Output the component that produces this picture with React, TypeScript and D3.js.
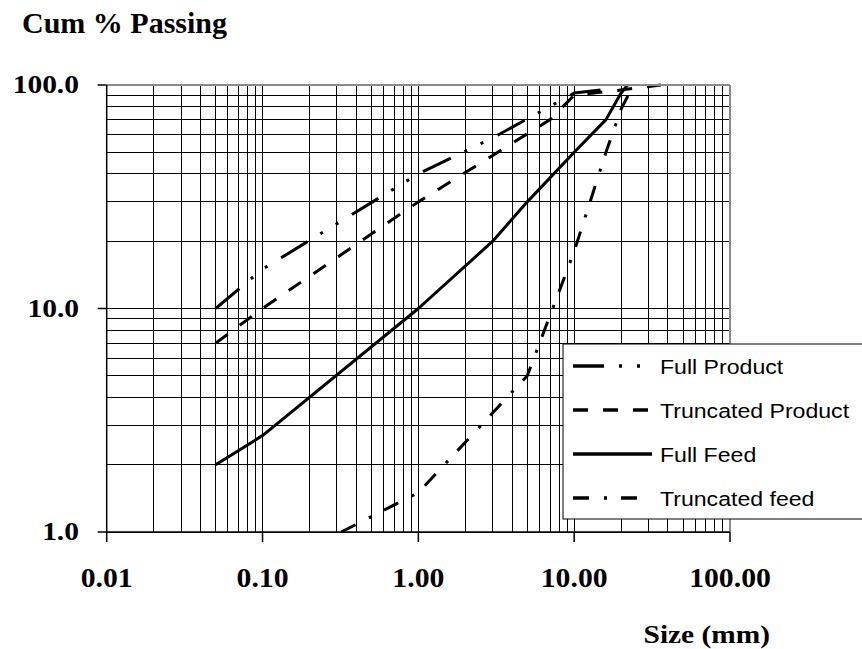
import * as d3 from 'd3';
import React, { useEffect, useRef } from 'react';

// axis ticks
const sizeTicks = [0.01, 0.1, 1, 10, 100];
const sizeTickLabels = ['0.01', '0.10', '1.00', '10.00', '100.00'];
const passingTicks = [1, 10, 100];
const passingTickLabels = ['1.0', '10.0', '100.0'];

// series (size in mm, cumulative % passing)
const fullProductSize = [0.05, 0.1, 1, 3, 10, 15, 18];
const fullProductPassing = [10, 15, 40, 58, 92, 95, 100];

const truncProductSize = [0.05, 0.1, 1, 7, 10, 20, 36];
const truncProductPassing = [7, 10, 30, 70, 90, 95, 100];

const fullFeedSize = [0.05, 0.1, 1, 3, 5, 10, 16, 20, 22];
const fullFeedPassing = [2, 2.7, 10, 20, 30, 50, 70, 92, 100];

const truncFeedSize = [0.32, 1, 5, 10, 16, 20, 24];
const truncFeedPassing = [1, 1.5, 5, 18, 50, 78, 100];

const seriesNames = ['Full Product', 'Truncated Product', 'Full Feed', 'Truncated feed'];
const seriesDash = ['31 15 3 15 3 16', '15 15', 'none', '16 15 3 14'];

const serif = '"Liberation Serif", "Times New Roman", serif';
const sans = '"Liberation Sans", Arial, sans-serif';

const App: React.FC = () => {
    const svgRef = useRef<SVGSVGElement | null>(null);

    useEffect(() => {
        document.body.style.margin = '0';
        const width = 862;
        const height = 649;

        d3.select(svgRef.current).selectAll('*').remove();
        const svg = d3.select(svgRef.current).attr('width', width).attr('height', height);

        const x = d3.scaleLog().domain([0.01, 100]).range([106.7, 730]);
        const y = d3.scaleLog().domain([1, 100]).range([532, 85]);

        const series = [
            { name: seriesNames[0], size: fullProductSize, pass: fullProductPassing, dash: seriesDash[0] },
            { name: seriesNames[1], size: truncProductSize, pass: truncProductPassing, dash: seriesDash[1] },
            { name: seriesNames[2], size: fullFeedSize, pass: fullFeedPassing, dash: seriesDash[2] },
            { name: seriesNames[3], size: truncFeedSize, pass: truncFeedPassing, dash: seriesDash[3] },
        ];

        // gridlines
        const grid = svg.append('g').attr('stroke', '#000').attr('stroke-width', 1).attr('shape-rendering', 'crispEdges');
        grid.selectAll('.vg')
            .data(x.ticks())
            .enter()
            .append('line')
            .attr('x1', d => x(d))
            .attr('x2', d => x(d))
            .attr('y1', y(100))
            .attr('y2', y(1));
        grid.selectAll('.hg')
            .data(y.ticks())
            .enter()
            .append('line')
            .attr('x1', x(0.01))
            .attr('x2', x(100))
            .attr('y1', d => y(d))
            .attr('y2', d => y(d));

        // series lines
        const line = d3.line<[number, number]>()
            .x(d => x(d[0]))
            .y(d => y(d[1]));

        series.forEach(s => {
            const pts = s.size.map((v, i) => [v, s.pass[i]] as [number, number]);
            svg.append('path')
                .attr('d', line(pts))
                .attr('fill', 'none')
                .attr('stroke', '#000')
                .attr('stroke-width', 3)
                .attr('stroke-linejoin', 'round')
                .attr('stroke-dasharray', s.dash);
        });

        // frame: grey top/right, black axes
        svg.append('line')
            .attr('x1', x(0.01)).attr('x2', x(100))
            .attr('y1', y(100)).attr('y2', y(100))
            .attr('stroke', '#8a8a8a').attr('stroke-width', 2);
        svg.append('line')
            .attr('x1', x(100)).attr('x2', x(100))
            .attr('y1', y(100)).attr('y2', y(1))
            .attr('stroke', '#8a8a8a').attr('stroke-width', 2);
        svg.append('line')
            .attr('x1', x(0.01)).attr('x2', x(0.01))
            .attr('y1', y(100)).attr('y2', y(1))
            .attr('stroke', '#000').attr('stroke-width', 1.5);
        svg.append('line')
            .attr('x1', x(0.01)).attr('x2', x(100))
            .attr('y1', y(1)).attr('y2', y(1))
            .attr('stroke', '#000').attr('stroke-width', 1.5);

        // axis ticks
        svg.selectAll('.yt')
            .data(passingTicks)
            .enter()
            .append('line')
            .attr('x1', x(0.01) - 9)
            .attr('x2', x(0.01))
            .attr('y1', d => y(d))
            .attr('y2', d => y(d))
            .attr('stroke', '#000')
            .attr('stroke-width', 1.5);
        svg.selectAll('.xt')
            .data(sizeTicks)
            .enter()
            .append('line')
            .attr('x1', d => x(d))
            .attr('x2', d => x(d))
            .attr('y1', y(1))
            .attr('y2', y(1) + 10)
            .attr('stroke', '#000')
            .attr('stroke-width', 1.5);

        // tick labels
        svg.selectAll('.yl')
            .data(passingTicks)
            .enter()
            .append('text')
            .attr('transform', d => `translate(79,${y(d) + 8}) scale(1.18,1)`)
            .attr('text-anchor', 'end')
            .attr('font-family', serif)
            .attr('font-weight', 'bold')
            .attr('font-size', 25)
            .text((d, i) => passingTickLabels[i]);

        svg.selectAll('.xl')
            .data(sizeTicks)
            .enter()
            .append('text')
            .attr('transform', d => `translate(${x(d)},587) scale(1.1,1)`)
            .attr('text-anchor', 'middle')
            .attr('font-family', serif)
            .attr('font-weight', 'bold')
            .attr('font-size', 27)
            .text((d, i) => sizeTickLabels[i]);

        // titles
        svg.append('text')
            .attr('x', 22)
            .attr('y', 33)
            .attr('font-family', serif)
            .attr('font-weight', 'bold')
            .attr('font-size', 30)
            .text('Cum % Passing');

        svg.append('text')
            .attr('transform', 'translate(770,643) scale(1.13,1)')
            .attr('text-anchor', 'end')
            .attr('font-family', serif)
            .attr('font-weight', 'bold')
            .attr('font-size', 26)
            .text('Size (mm)');

        // legend
        const legend = svg.append('g');
        legend.append('rect')
            .attr('x', 563)
            .attr('y', 344)
            .attr('width', 320)
            .attr('height', 175)
            .attr('fill', '#fff')
            .attr('stroke', '#000')
            .attr('stroke-width', 1);

        const ly = d3.scalePoint<string>().domain(seriesNames).range([366, 498]);
        series.forEach(s => {
            const yy = ly(s.name)!;
            legend.append('line')
                .attr('x1', 573)
                .attr('x2', 652)
                .attr('y1', yy)
                .attr('y2', yy)
                .attr('stroke', '#000')
                .attr('stroke-width', 3.5)
                .attr('stroke-dasharray', s.dash);
            legend.append('text')
                .attr('transform', `translate(660,${yy + 7.5}) scale(1.1,1)`)
                .attr('font-family', sans)
                .attr('font-size', 21)
                .text(s.name);
        });
    }, []);

    return <svg ref={svgRef} style={{ display: 'block' }}></svg>;
};

export default App;
